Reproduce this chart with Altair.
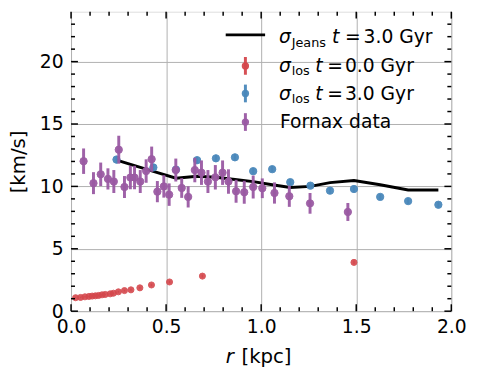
import altair as alt
import pandas as pd

# ---------------- data ----------------
red_r = [0.024, 0.050, 0.073, 0.094, 0.111, 0.128, 0.145, 0.163, 0.180, 0.206,
         0.223, 0.249, 0.281, 0.315, 0.362, 0.423, 0.518, 0.691, 1.488]
red_v = [1.08, 1.10, 1.15, 1.18, 1.21, 1.23, 1.26, 1.31, 1.34, 1.39,
         1.44, 1.55, 1.65, 1.71, 1.87, 2.10, 2.34, 2.81, 3.91]
red_e = [0.06, 0.06, 0.06, 0.06, 0.06, 0.06, 0.06, 0.06, 0.06, 0.06,
         0.07, 0.07, 0.07, 0.08, 0.08, 0.09, 0.10, 0.12, 0.15]

blue_r = [0.239, 0.433, 0.552, 0.663, 0.762, 0.862, 0.958, 1.058, 1.153, 1.259,
          1.362, 1.488, 1.626, 1.773, 1.932]
blue_v = [12.15, 11.52, 11.35, 12.10, 12.25, 12.33, 11.22, 11.38, 10.34, 10.06,
          9.66, 9.79, 9.16, 8.82, 8.53]
blue_e = [0.30, 0.28, 0.28, 0.27, 0.27, 0.26, 0.26, 0.25, 0.25, 0.24,
          0.24, 0.24, 0.23, 0.23, 0.22]

jeans_r = [0.240, 0.433, 0.552, 0.663, 0.762, 0.862, 0.958, 1.058, 1.153, 1.259,
           1.362, 1.488, 1.626, 1.773, 1.932]
jeans_v = [12.10, 11.20, 10.65, 10.82, 10.73, 10.55, 10.38, 10.13, 9.92, 10.00,
           10.30, 10.47, 10.13, 9.71, 9.71]

fx_r = [0.066, 0.118, 0.156, 0.194, 0.225, 0.251, 0.281, 0.312, 0.334, 0.364,
        0.395, 0.424, 0.454, 0.488, 0.516, 0.551, 0.582, 0.616, 0.651, 0.686,
        0.720, 0.759, 0.797, 0.828, 0.868, 0.911, 0.958, 1.006, 1.070, 1.148,
        1.257, 1.456]
fx_v = [12.02, 10.26, 10.97, 10.60, 10.39, 12.94, 9.95, 10.71, 10.71, 10.39,
        11.23, 12.18, 9.58, 10.00, 9.34, 11.31, 9.87, 9.16, 11.31, 11.10,
        10.39, 10.73, 11.10, 10.39, 9.61, 9.53, 9.95, 9.85, 9.47, 9.21,
        8.64, 7.95]
fx_e = [1.02, 0.88, 0.94, 0.85, 0.92, 1.12, 0.88, 0.94, 0.94, 0.92,
        0.94, 1.01, 0.85, 0.90, 0.90, 0.92, 0.79, 0.85, 0.98, 0.98,
        0.92, 0.98, 0.98, 0.98, 0.92, 0.92, 0.92, 0.79, 0.85, 0.85,
        0.83, 0.72]

x_major = [0.0, 0.5, 1.0, 1.5, 2.0]
x_minor = [0.1, 0.2, 0.3, 0.4, 0.6, 0.7, 0.8, 0.9, 1.1, 1.2, 1.3, 1.4,
           1.6, 1.7, 1.8, 1.9]
y_major = [0, 5, 10, 15, 20]
y_minor = [1, 2, 3, 4, 6, 7, 8, 9, 11, 12, 13, 14, 16, 17, 18, 19, 21, 22, 23]

RED = "#d4474c"
BLUE = "#4a88bb"
PURPLE = "#9a5aa3"
FONT = "DejaVu Sans"
W, H = 386, 304

def table(r, v, e=None):
    d = pd.DataFrame({"r": r, "v": v})
    if e is not None:
        d["lo"] = [a - b for a, b in zip(v, e)]
        d["hi"] = [a + b for a, b in zip(v, e)]
    return d

red = table(red_r, red_v, red_e)
blue = table(blue_r, blue_v, blue_e)
fx = table(fx_r, fx_v, fx_e)
jeans = table(jeans_r, jeans_v)

xs = alt.Scale(domain=[0, 2], nice=False)
ys = alt.Scale(domain=[0, 24], nice=False)

xaxis = alt.Axis(values=x_major, format=".1f", grid=True, ticks=False, domain=False,
                 labelFontSize=19, labelFont=FONT, labelColor="black", labelPadding=7,
                 labelFlush=False, gridColor="#b0b0b0", gridWidth=1, title=None)
yaxis = alt.Axis(values=y_major, format="d", grid=True, ticks=False, domain=False,
                 labelFontSize=19, labelFont=FONT, labelColor="black", labelPadding=8,
                 labelFlush=False, gridColor="#b0b0b0", gridWidth=1,
                 title="[km/s]", titleFont=FONT, titleFontSize=20, titleFontWeight="normal",
                 titleColor="black", titlePadding=11)

X = alt.X("r:Q", scale=xs, axis=xaxis)
Y = alt.Y("v:Q", scale=ys, axis=yaxis)

base_grid = alt.Chart(jeans).mark_line(color="black", strokeWidth=3).encode(x=X, y=Y)

def errpoints(df, color, size, sw, op):
    bars = alt.Chart(df).mark_rule(color=color, strokeWidth=sw, opacity=op).encode(
        x=alt.X("r:Q", scale=xs), y=alt.Y("lo:Q", scale=ys), y2="hi:Q")
    pts = alt.Chart(df).mark_point(filled=True, shape="circle", color=color, size=size,
                                   opacity=op, stroke=color, strokeWidth=1).encode(
        x=alt.X("r:Q", scale=xs), y=alt.Y("v:Q", scale=ys))
    return bars + pts

red_l = errpoints(red, RED, 38, 1.5, 0.9)
blue_l = errpoints(blue, BLUE, 55, 2, 0.95)
fx_l = errpoints(fx, PURPLE, 55, 3, 0.95)

# inward ticks on all four sides
def xticks(vals, ln):
    d = pd.DataFrame({"t": vals})
    b = alt.Chart(d).mark_rule(color="black", strokeWidth=1.5).encode(
        x=alt.X("t:Q", scale=xs), y=alt.value(H), y2=alt.value(H - ln))
    t = alt.Chart(d).mark_rule(color="black", strokeWidth=1.5).encode(
        x=alt.X("t:Q", scale=xs), y=alt.value(0), y2=alt.value(ln))
    return b + t

def yticks(vals, ln):
    d = pd.DataFrame({"t": vals})
    l = alt.Chart(d).mark_rule(color="black", strokeWidth=1.5).encode(
        y=alt.Y("t:Q", scale=ys), x=alt.value(0), x2=alt.value(ln))
    r = alt.Chart(d).mark_rule(color="black", strokeWidth=1.5).encode(
        y=alt.Y("t:Q", scale=ys), x=alt.value(W), x2=alt.value(W - ln))
    return l + r

ticks = xticks(x_major, 7) + xticks(x_minor, 4) + yticks(y_major, 7) + yticks(y_minor, 4)

one = pd.DataFrame({"a": [0]})
def txt(s, x, y, size=19, style="normal", color="black", align="left"):
    return alt.Chart(one).mark_text(text=s, font=FONT, fontSize=size, fontStyle=style,
                                    color=color, align=align, baseline="alphabetic").encode(
        x=alt.value(x), y=alt.value(y))

# x-axis title with italic r
xtitle = txt("r", 157, 357, size=20, style="italic") + txt("[kpc]", 173, 357, size=20)

# legend
leg_line = alt.Chart(one).mark_rule(color="black", strokeWidth=3).encode(
    x=alt.value(157), x2=alt.value(197), y=alt.value(23.5))

def leg_marker(color, cy):
    bar = alt.Chart(one).mark_rule(color=color, strokeWidth=3, opacity=0.95).encode(
        x=alt.value(177), y=alt.value(cy - 9), y2=alt.value(cy + 9))
    pt = alt.Chart(one).mark_point(filled=True, shape="circle", color=color, size=55,
                                   opacity=0.95).encode(x=alt.value(177), y=alt.value(cy))
    return bar + pt

legend = (
    leg_line
    + txt("σ", 211, 32, style="italic") + txt("Jeans", 224, 36, size=13)
    + txt("t", 265, 32, style="italic") + txt("=", 278, 32) + txt("3.0 Gyr", 297, 32)
    + leg_marker(RED, 55)
    + txt("σ", 211, 61, style="italic") + txt("los", 224, 64.5, size=13)
    + txt("t", 248, 61, style="italic") + txt("=", 260, 61) + txt("0.0 Gyr", 278, 61)
    + leg_marker(BLUE, 83)
    + txt("σ", 211, 89.5, style="italic") + txt("los", 224, 93, size=13)
    + txt("t", 248, 89.5, style="italic") + txt("=", 260, 89.5) + txt("3.0 Gyr", 278, 89.5)
    + leg_marker(PURPLE, 112)
    + txt("Fornax data", 212, 118.5)
)

chart = alt.layer(base_grid, red_l, blue_l, fx_l, ticks, xtitle, legend).properties(
    width=W, height=H,
    autosize=alt.AutoSizeParams(type="none"),
    padding={"left": 64, "top": 1, "right": 20, "bottom": 60},
).configure_view(stroke="black", strokeWidth=2).configure(background="white")

chart.save("out.html", embed_options={"renderer": "svg", "actions": False})
